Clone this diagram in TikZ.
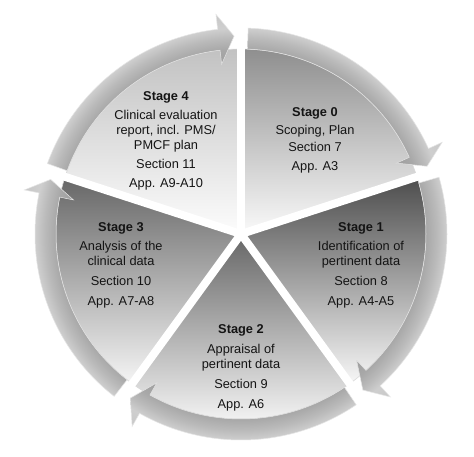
\documentclass[tikz,border=0pt]{standalone}
\usepackage{fontspec}
\setmainfont{Liberation Sans}
\definecolor{rg1}{gray}{0.62}
\definecolor{rg2}{gray}{0.66}
\definecolor{rg3}{gray}{0.73}
\definecolor{rg4}{gray}{0.81}
\definecolor{rg5}{gray}{0.78}
\definecolor{s0t}{gray}{0.56}
\definecolor{s0m}{gray}{0.82}
\definecolor{s0b}{gray}{0.98}
\definecolor{s1t}{gray}{0.30}
\definecolor{s1m}{gray}{0.72}
\definecolor{s1b}{gray}{0.97}
\definecolor{s2t}{gray}{0.40}
\definecolor{s2m}{gray}{0.78}
\definecolor{s2b}{gray}{0.98}
\definecolor{s3t}{gray}{0.40}
\definecolor{s3m}{gray}{0.74}
\definecolor{s3b}{gray}{0.96}
\definecolor{s4t}{gray}{0.76}
\definecolor{s4m}{gray}{0.90}
\definecolor{s4b}{gray}{0.99}
\definecolor{txt}{gray}{0.08}
\pgfdeclareradialshading{ringshade}{\pgfpointorigin}{color(0bp)=(rg1); color(18.9bp)=(rg1); color(20.6bp)=(rg2); color(21.8bp)=(rg3); color(22.9bp)=(rg4); color(24.7bp)=(rg5); color(50bp)=(rg5)}
\newcommand\ringarrow[2]{%
  \pgfmathsetmacro\rAs{#1-2}%
  \pgfmathsetmacro\rAe{#2+6.5}%
  \pgfmathsetmacro\rAt{#2+2}%
  \begin{scope}
    \clip (\rAs:185pt) -- (\rAs:206pt) arc[start angle=\rAs, end angle=\rAe, radius=206pt]
      -- (\rAe:221pt) -- (\rAt:198pt) -- (\rAe:171pt) -- (\rAe:185pt)
      arc[start angle=\rAe, end angle=\rAs, radius=185pt] -- cycle;
    \shade[shading=ringshade] (0,0) circle (225pt);
  \end{scope}
  \draw[arrowedge] (\rAs:185pt) -- (\rAs:206pt) arc[start angle=\rAs, end angle=\rAe, radius=206pt]
      -- (\rAe:221pt) -- (\rAt:198pt) -- (\rAe:171pt) -- (\rAe:185pt)
      arc[start angle=\rAe, end angle=\rAs, radius=185pt] -- cycle;
}
\newcommand\sector[5]{%
  \shade[top color=#3, middle color=#4, bottom color=#5] (0,0) -- (#1:185pt) arc[start angle=#1, end angle=#2, radius=185pt] -- cycle;
  \draw[bevel] (0,0) -- (#1:185pt) arc[start angle=#1, end angle=#2, radius=185pt] -- cycle;
}
\begin{document}
\begin{tikzpicture}[
  arrowedge/.style={draw=white!80!gray, line width=0.5pt, line join=miter},
  bevel/.style={draw=white!70!gray, line width=0.6pt},
  gapline/.style={white, line width=8pt},
  stagetext/.style={align=center, inner sep=0pt, text=txt,
    font=\fontsize{12.8pt}{15pt}\selectfont}
]
\useasboundingbox[fill=white] (-241pt,-222pt) rectangle (233pt,234pt);
% sectors
\sector{90}{18}{s0t}{s0m}{s0b}
\sector{18}{-54}{s1t}{s1m}{s1b}
\sector{-54}{-126}{s2t}{s2m}{s2b}
\sector{162}{234}{s3t}{s3m}{s3b}
\sector{90}{162}{s4t}{s4m}{s4b}
% gaps
\foreach \b in {90,18,-54,-126,162}
  \draw[gapline] (0,0) -- (\b:187pt);
% ring arrows
\ringarrow{90}{18}
\ringarrow{18}{-54}
\ringarrow{-54}{-126}
\ringarrow{-126}{-198}
\ringarrow{162}{90}
% texts
\node[stagetext] (t4) at (-75pt,93pt) {\textbf{Stage 4}\\[4pt]Clinical evaluation\\report, incl. PMS/\\PMCF plan\\[4.5pt]Section 11\\[4pt]App. A9-A10};
\node[stagetext] (t0) at (74pt,94pt) {\textbf{Stage 0}\\[3pt]Scoping, Plan\\[2.5pt]Section 7\\[3.5pt]App. A3};
\node[stagetext] (t1) at (120pt,-31pt) {\textbf{Stage 1}\\[4pt]Identification of\\pertinent data\\[5pt]Section 8\\[5pt]App. A4-A5};
\node[stagetext] (t2) at (0pt,-134pt) {\textbf{Stage 2}\\[5pt]Appraisal of\\pertinent data\\[5pt]Section 9\\[5pt]App. A6};
\node[stagetext] (t3) at (-120pt,-31pt) {\textbf{Stage 3}\\[4pt]Analysis of the\\clinical data\\[5pt]Section 10\\[5pt]App. A7-A8};
\end{tikzpicture}
\end{document}
